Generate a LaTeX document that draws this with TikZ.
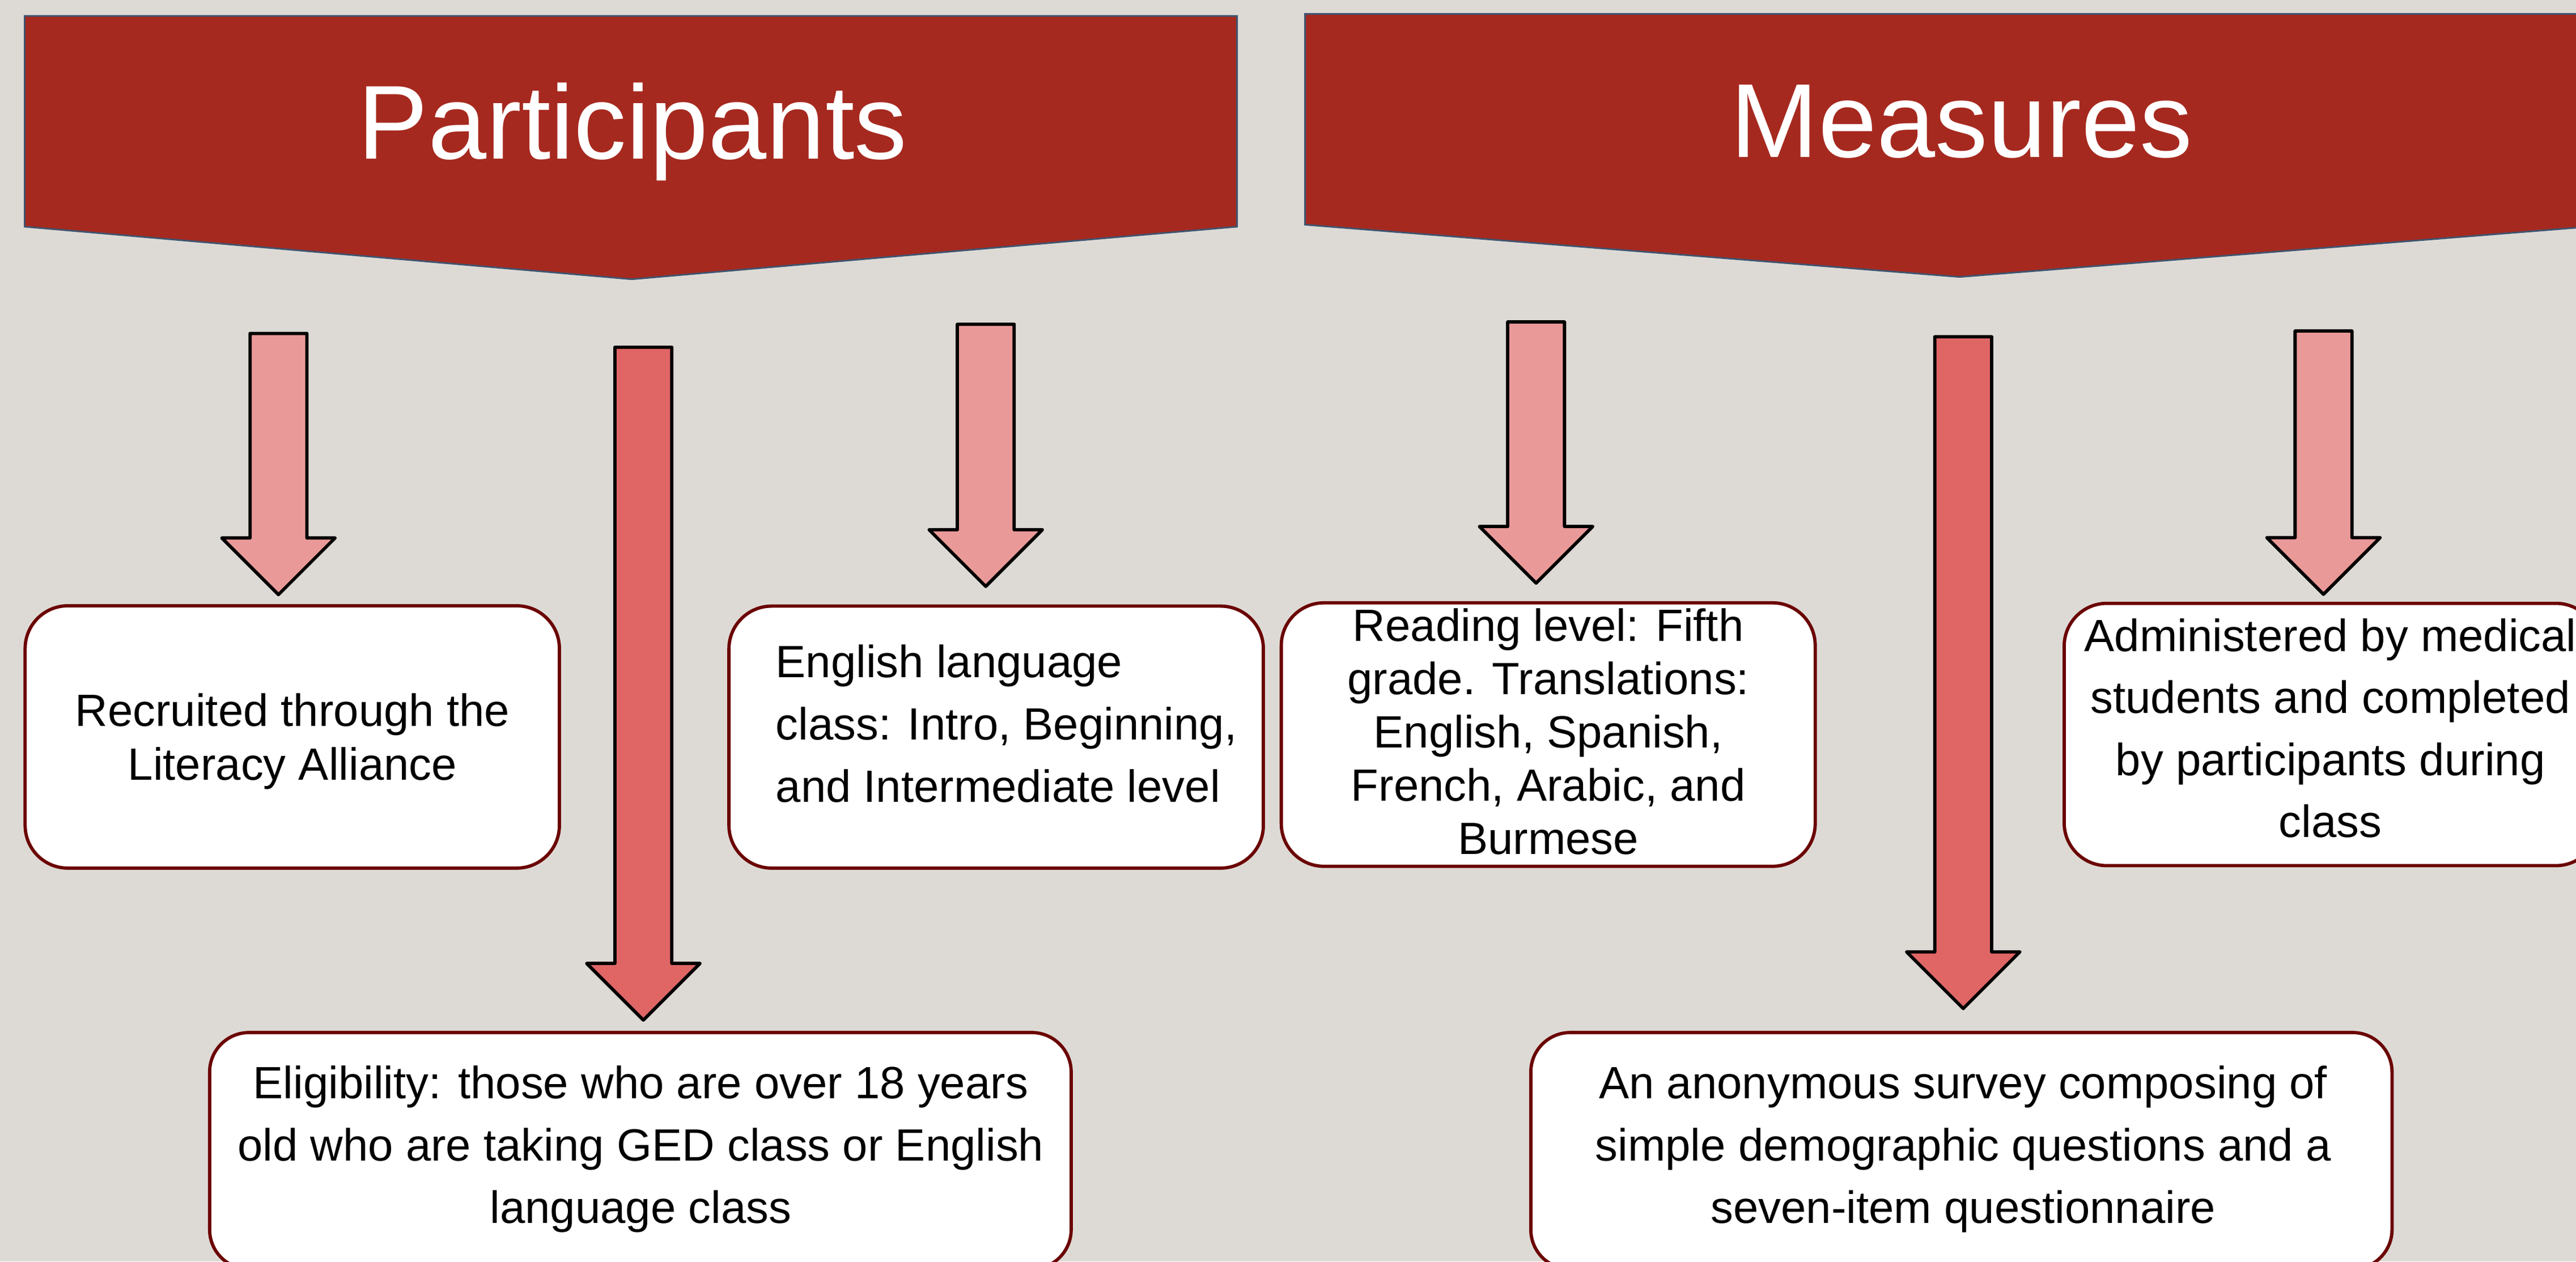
\documentclass[tikz,border=0pt]{standalone}
\usepackage{fontspec}
\setmainfont{Liberation Sans}
\usetikzlibrary{calc}
\definecolor{bgc}{HTML}{DDDAD5}
\definecolor{bannerc}{HTML}{A6291F}
\definecolor{bannerline}{HTML}{3E5470}
\definecolor{lightarrow}{HTML}{EA9999}
\definecolor{darkarrow}{HTML}{E06666}
\definecolor{boxline}{HTML}{6B0000}
\newcommand{\mylines}[3]{\fontsize{27.5}{#2}\selectfont\begin{tabular}[t]{@{}#1@{}}#3\end{tabular}}
\newcommand{\blockarrow}[3]{%
  \draw[#1] let \p1=(#2), \p2=(#3) in
    (\x1-17.3pt,\y1) -- (\x1+17.3pt,\y1) -- (\x1+17.3pt,\y2+34.5pt) --
    (\x1+34.5pt,\y2+34.5pt) -- (\x2,\y2) -- (\x1-34.5pt,\y2+34.5pt) --
    (\x1-17.3pt,\y2+34.5pt) -- cycle;}
\tikzset{
  banner/.style={fill=bannerc, draw=bannerline, line width=1pt},
  titletext/.style={text=white, font=\fontsize{64}{77}\selectfont, inner sep=0pt, anchor=base},
  arrowlight/.style={fill=lightarrow, draw=black, line width=2pt, line join=round},
  arrowdark/.style={fill=darkarrow, draw=black, line width=2pt, line join=round},
  infobox/.style={draw=boxline, fill=white, line width=2pt, rounded corners=26pt, rectangle, inner sep=0pt},
  infotext/.style={inner sep=0pt, text=black}
}
\begin{document}
\begin{tikzpicture}[x=1pt, y=-1pt]
\useasboundingbox (0,0) rectangle (1568,768);
\clip (0,0) rectangle (1568,768);
\fill[bgc] (0,0) rectangle (1568,768);

% banners
\draw[banner] (15,9.7) -- (753,9.7) -- (753,138) -- (384.6,170) -- (15,138) -- cycle;
\draw[banner] (794.4,8.5) -- (1591.2,8.5) -- (1591.2,136.8) -- (1192.8,168.6) -- (794.4,136.8) -- cycle;
\node[titletext] (tpart) at (385,96.8) {Participants};
\node[titletext] (tmeas) at (1194,95.6) {Measures};

% boxes
\node[infobox, minimum width=325.2pt, minimum height=159.7pt] (b1) at (177.9,448.65) {};
\node[infobox, minimum width=325.3pt, minimum height=159.5pt] (b3) at (606.35,448.75) {};
\node[infobox, minimum width=325pt, minimum height=160.4pt] (b4) at (942.4,447.2) {};
\node[infobox, minimum width=325.3pt, minimum height=159.7pt] (b7) at (1419.1,447.15) {};
\node[infobox, minimum width=524.4pt, minimum height=144pt, rounded corners=24pt] (b5) at (389.8,700.6) {};
\node[infobox, minimum width=524.2pt, minimum height=144pt, rounded corners=24pt] (b6) at (1193.9,700.6) {};

% arrow coordinates
\coordinate (a1s) at (169.5,203);   \coordinate (a1e) at (169.5,362);
\coordinate (a2s) at (391.6,211.4); \coordinate (a2e) at (391.6,621);
\coordinate (a3s) at (600,197.4);   \coordinate (a3e) at (600,357);
\coordinate (a4s) at (935,196);     \coordinate (a4e) at (935,355);
\coordinate (a5s) at (1195,205);    \coordinate (a5e) at (1195,614);
\coordinate (a6s) at (1414.3,201.5);\coordinate (a6e) at (1414.3,361.8);

\blockarrow{arrowlight}{a1s}{a1e}
\blockarrow{arrowdark}{a2s}{a2e}
\blockarrow{arrowlight}{a3s}{a3e}
\blockarrow{arrowlight}{a4s}{a4e}
\blockarrow{arrowdark}{a5s}{a5e}
\blockarrow{arrowlight}{a6s}{a6e}

% texts
\node[infotext, anchor=base] (t1) at (178,442) {\mylines{c}{33}{Recruited through the\\Literacy Alliance}};
\node[infotext, anchor=base west] (t3) at (472,412.6) {\mylines{l}{37.8}{English language\\class: Intro, Beginning,\\and Intermediate level}};
\node[infotext, anchor=base] (t4) at (942.4,390.4) {\mylines{c}{32.4}{Reading level: Fifth\\grade. Translations:\\English, Spanish,\\French, Arabic, and\\Burmese}};
\node[infotext, anchor=base] (t7) at (1418.5,396.4) {\mylines{c}{37.8}{Administered by medical\\students and completed\\by participants during\\class}};
\node[infotext, anchor=base] (t5) at (390,668.7) {\mylines{c}{38}{Eligibility: those who are over 18 years\\old who are taking GED class or English\\language class}};
\node[infotext, anchor=base] (t6) at (1195,668.7) {\mylines{c}{38}{An anonymous survey composing of\\simple demographic questions and a\\seven-item questionnaire}};
\end{tikzpicture}
\end{document}
